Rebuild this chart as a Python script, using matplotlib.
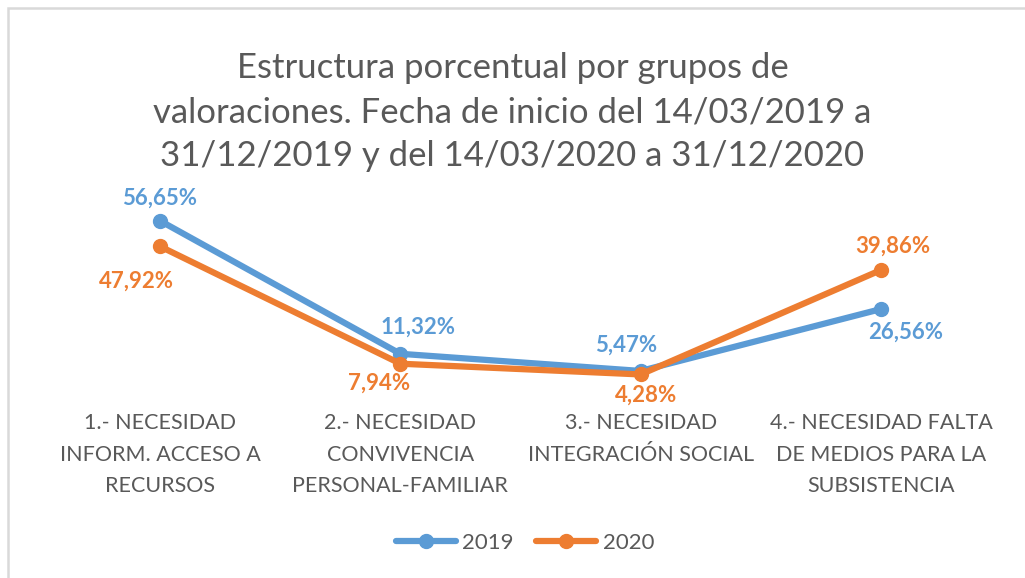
import matplotlib
matplotlib.use('Agg')
import matplotlib.pyplot as plt
from matplotlib.patches import Rectangle

# Data
categories = ['1.- NECESIDAD\nINFORM. ACCESO A\nRECURSOS',
              '2.- NECESIDAD\nCONVIVENCIA\nPERSONAL-FAMILIAR',
              '3.- NECESIDAD\nINTEGRACIÓN SOCIAL',
              '4.- NECESIDAD FALTA\nDE MEDIOS PARA LA\nSUBSISTENCIA']
series_names = ['2019', '2020']
values_2019 = [56.65, 11.32, 5.47, 26.56]
values_2020 = [47.92, 7.94, 4.28, 39.86]

title = ('Estructura porcentual por grupos de\n'
         'valoraciones. Fecha de inicio del 14/03/2019 a\n'
         '31/12/2019 y del 14/03/2020 a 31/12/2020')

# Styles
blue = '#5B9BD5'
orange = '#ED7D31'
gray = '#595959'
font = 'Lato'
plt.rcParams['font.family'] = [font, 'DejaVu Sans']

# label offsets in pixels (dx, dy), dy positive = up
off_2019 = [(-1, 23), (18, 27), (-15, 26), (25, -23)]
off_2020 = [(-24, -35), (-21, -19), (5, -21), (12, 24)]

fig = plt.figure(figsize=(10.25, 5.78), dpi=100)
ax = fig.add_axes([40 / 1025, 1 - 387 / 578, 961 / 1025, 176 / 578])

x = list(range(len(categories)))
for vals, col, name, offs in [(values_2019, blue, series_names[0], off_2019),
                              (values_2020, orange, series_names[1], off_2020)]:
    ax.plot(x, vals, color=col, lw=4.5, marker='o', ms=10,
            solid_capstyle='round', label=name)
    for xi, v, (dx, dy) in zip(x, vals, offs):
        ax.annotate(f'{v:.2f}%'.replace('.', ','), (xi, v),
                    xytext=(dx, dy), textcoords='offset pixels',
                    ha='center', va='center', color=col,
                    fontsize=16, fontweight='bold')

ax.set_xlim(-0.5, len(categories) - 0.5)
ax.set_ylim(0, 60)
ax.set_xticks(x)
ax.set_xticklabels(categories, fontsize=15.5, color=gray, linespacing=1.72)
ax.tick_params(axis='x', length=0, pad=19)
ax.set_yticks([])
for s in ax.spines.values():
    s.set_visible(False)

fig.text(0.5, 1 - 112 / 578, title, ha='center', va='center',
         fontsize=25, color=gray, linespacing=1.45)

fig.legend(loc='center', bbox_to_anchor=(0.512, 1 - 543 / 578), ncol=2,
           frameon=False, fontsize=16, handlelength=2.7,
           columnspacing=1.0, handletextpad=0.3, labelcolor=gray)

# chart border (top and left visible)
fig.patches.append(Rectangle((8 / 1025, -0.1), 1.2, 1 - 8 / 578 + 0.1,
                             transform=fig.transFigure, fill=False,
                             edgecolor='#D9D9D9', lw=1.8))

fig.savefig('out.png', dpi=100)
